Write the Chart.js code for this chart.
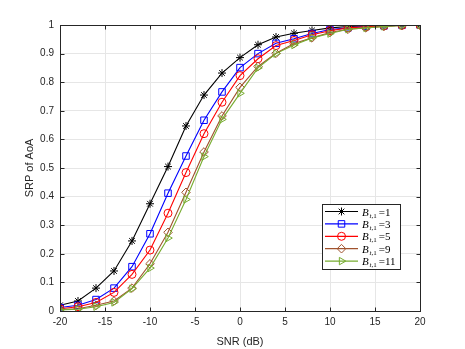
<!DOCTYPE html>
<html lang="en">
<head>
    <meta charset="UTF-8">
    <title>SRP of AoA vs SNR</title>
    <script src="https://cdn.jsdelivr.net/npm/chart.js"></script>
    <style>
        html, body { margin: 0; padding: 0; background: #fff; }
        #wrap { position: relative; width: 465px; height: 349px; }
    </style>
</head>
<body>
    <div id="wrap"><canvas id="grafico" width="465" height="349"></canvas></div>

    <script>
        // valores
        const snr = [-20, -18, -16, -14, -12, -10, -8, -6, -4, -2, 0, 2, 4, 6, 8, 10, 12, 14, 16, 18, 20];
        const bt1  = [0.020, 0.035, 0.080, 0.140, 0.245, 0.375, 0.505, 0.647, 0.755, 0.832, 0.886, 0.931, 0.958, 0.971, 0.981, 0.990, 0.995, 0.997, 0.998, 0.999, 1.000];
        const bt3  = [0.012, 0.020, 0.040, 0.080, 0.155, 0.270, 0.412, 0.542, 0.667, 0.766, 0.851, 0.900, 0.936, 0.952, 0.970, 0.984, 0.990, 0.995, 0.997, 0.999, 1.000];
        const bt5  = [0.008, 0.015, 0.030, 0.065, 0.128, 0.213, 0.342, 0.484, 0.620, 0.730, 0.823, 0.882, 0.928, 0.946, 0.966, 0.980, 0.990, 0.994, 0.997, 0.999, 1.000];
        const bt9  = [0.005, 0.008, 0.020, 0.035, 0.080, 0.165, 0.275, 0.415, 0.556, 0.682, 0.782, 0.855, 0.901, 0.935, 0.955, 0.974, 0.985, 0.990, 0.995, 0.998, 1.000];
        const bt11 = [0.004, 0.006, 0.015, 0.030, 0.078, 0.150, 0.255, 0.390, 0.540, 0.670, 0.761, 0.850, 0.900, 0.930, 0.955, 0.970, 0.985, 0.990, 0.995, 0.998, 1.000];
        const legendas = ['1', '3', '5', '9', '11'];
        const xTicks = [-20, -15, -10, -5, 0, 5, 10, 15, 20];

        const cores = ['#000000', '#0000ff', '#ff0000', '#a0522d', '#77ac30'];
        const marcadores = ['star', 'rect', 'circle', 'rectRot', 'triangle'];
        const raios = [4, 4.6, 4, 4.3, 4.3];
        const rotacoes = [0, 0, 0, 0, 90];
        const series = [bt1, bt3, bt5, bt9, bt11];

        const axisColor = '#262626';

        function ponto(ctx, estilo, x, y, r, rot, cor) {
            ctx.save();
            ctx.strokeStyle = cor;
            ctx.fillStyle = estilo === 'star' ? cor : 'rgba(0,0,0,0)';
            ctx.lineWidth = 1;
            Chart.helpers.drawPoint(ctx, { pointStyle: estilo, radius: r, rotation: rot, borderWidth: 1 }, x, y);
            ctx.restore();
        }

        // caixa, ticks para dentro e legenda estilo MATLAB
        const estiloMatlab = {
            id: 'estiloMatlab',
            afterDraw(chart) {
                const ctx = chart.ctx;
                const a = chart.chartArea;
                const xs = chart.scales.x, ys = chart.scales.y;
                const L = Math.round(a.left) + 0.5, R = Math.round(a.right) + 0.5;
                const T = Math.round(a.top) + 0.5, B = Math.round(a.bottom) + 0.5;
                ctx.save();
                ctx.strokeStyle = axisColor;
                ctx.lineWidth = 1;
                ctx.strokeRect(L, T, R - L, B - T);
                ctx.beginPath();
                xTicks.forEach(v => {
                    const px = Math.round(xs.getPixelForValue(v)) + 0.5;
                    ctx.moveTo(px, B); ctx.lineTo(px, B - 4);
                    ctx.moveTo(px, T); ctx.lineTo(px, T + 4);
                });
                for (let i = 0; i <= 10; i++) {
                    const py = Math.round(ys.getPixelForValue(i / 10)) + 0.5;
                    ctx.moveTo(L, py); ctx.lineTo(L + 4, py);
                    ctx.moveTo(R, py); ctx.lineTo(R - 4, py);
                }
                ctx.stroke();

                // legenda
                const bx = 322.5, by = 204.5, bw = 78, bh = 65;
                ctx.fillStyle = '#ffffff';
                ctx.fillRect(bx, by, bw, bh);
                ctx.strokeStyle = axisColor;
                ctx.strokeRect(bx, by, bw, bh);
                legendas.forEach((lab, i) => {
                    const y = 211.5 + i * 12.4;
                    ctx.strokeStyle = cores[i];
                    ctx.lineWidth = 1.2;
                    ctx.beginPath();
                    ctx.moveTo(325, y); ctx.lineTo(358, y);
                    ctx.stroke();
                    ponto(ctx, marcadores[i], 341.5, y, raios[i], rotacoes[i], cores[i]);
                    ctx.fillStyle = '#000';
                    ctx.textBaseline = 'alphabetic';
                    ctx.textAlign = 'left';
                    ctx.font = 'italic 11px "Liberation Serif"';
                    ctx.fillText('B', 362, y + 4);
                    ctx.font = 'italic 7px "Liberation Serif"';
                    ctx.fillText('t', 369.5, y + 6);
                    ctx.font = '7px "Liberation Serif"';
                    ctx.fillText(',1', 371.5, y + 6);
                    ctx.font = '11px "Liberation Serif"';
                    ctx.fillText(' =' + lab, 376, y + 4);
                });
                ctx.restore();
            }
        };

        const datasets = series.map((s, i) => ({
            label: 'B_{t,1} =' + legendas[i],
            data: snr.map((x, k) => ({ x: x, y: s[k] })),
            borderColor: cores[i],
            backgroundColor: marcadores[i] === 'star' ? cores[i] : 'rgba(0,0,0,0)',
            borderWidth: 1.1,
            pointStyle: marcadores[i],
            pointRadius: raios[i],
            pointRotation: rotacoes[i],
            pointBorderWidth: 1,
            pointBorderColor: cores[i],
            pointBackgroundColor: marcadores[i] === 'star' ? cores[i] : 'rgba(0,0,0,0)',
            showLine: true,
            tension: 0,
            order: 5 - i
        }));

        new Chart(document.getElementById('grafico'), {
            type: 'scatter',
            data: { datasets: datasets },
            options: {
                responsive: false,
                animation: false,
                events: [],
                layout: { padding: { left: 0, right: 45, top: 25, bottom: 0 } },
                plugins: { legend: { display: false }, tooltip: { enabled: false } },
                scales: {
                    x: {
                        type: 'linear',
                        min: -20, max: 20,
                        afterFit: s => { s.height = 38; },
                        afterBuildTicks: s => { s.ticks = xTicks.map(v => ({ value: v })); },
                        ticks: { color: axisColor, font: { family: 'Liberation Sans', size: 10 }, padding: 5, maxRotation: 0 },
                        grid: { color: '#e6e6e6', lineWidth: 1, drawTicks: false },
                        border: { display: false },
                        title: { display: true, text: 'SNR (dB)', color: axisColor, font: { family: 'Liberation Sans', size: 11 }, padding: { top: 1, bottom: 0 } }
                    },
                    y: {
                        min: 0, max: 1,
                        afterFit: s => { s.width = 60; },
                        ticks: {
                            stepSize: 0.1,
                            color: axisColor,
                            font: { family: 'Liberation Sans', size: 10 },
                            padding: 6,
                            callback: v => String(Math.round(v * 10) / 10)
                        },
                        grid: { color: '#e6e6e6', lineWidth: 1, drawTicks: false },
                        border: { display: false },
                        title: { display: true, text: 'SRP of AoA', color: axisColor, font: { family: 'Liberation Sans', size: 11 }, padding: { top: 23, bottom: 0 } }
                    }
                }
            },
            plugins: [estiloMatlab]
        });
    </script>
</body>
</html>
